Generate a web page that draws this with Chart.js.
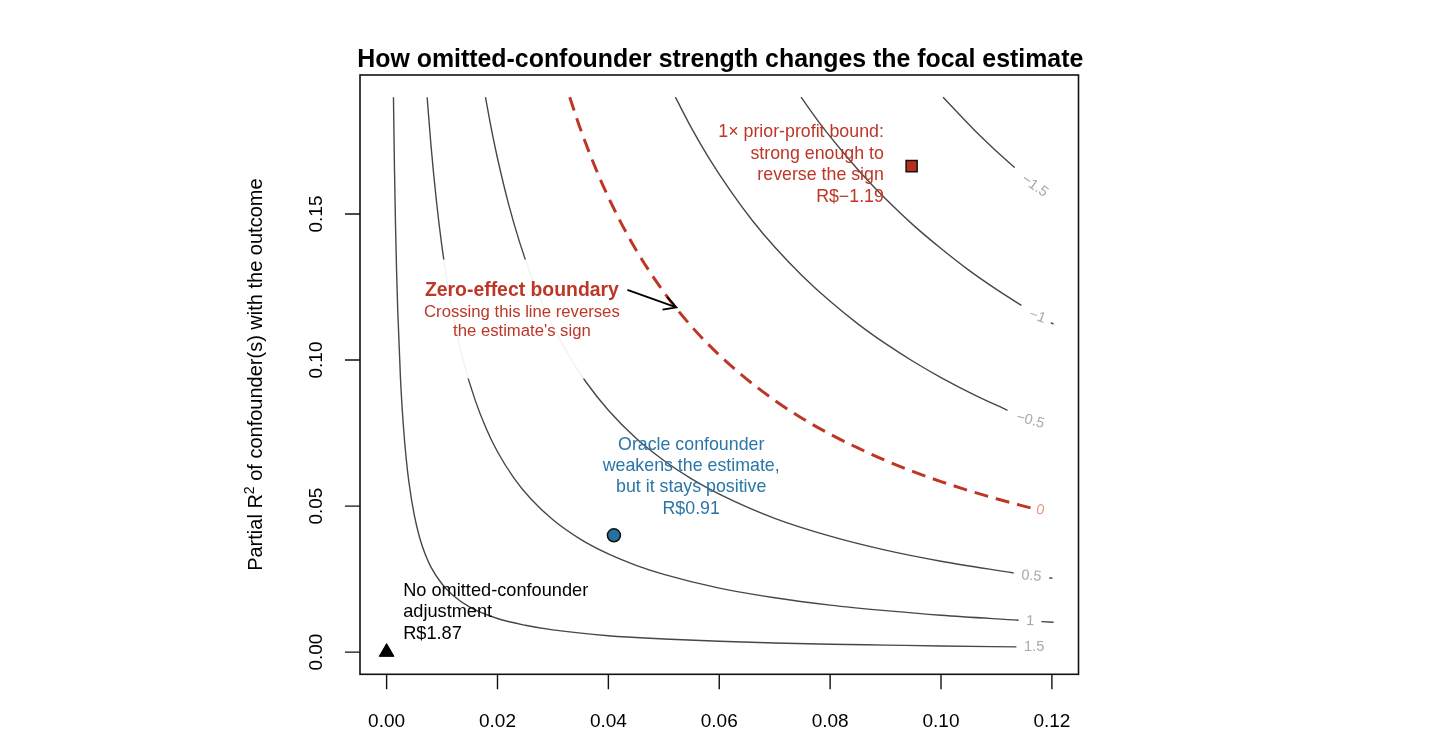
<!DOCTYPE html>
<html>
<head>
<meta charset="utf-8">
<script src="https://cdn.jsdelivr.net/npm/chart.js@4.4.1/dist/chart.umd.min.js"></script>
<style>
  body { margin: 0; background: #fff; }
  canvas { display: block; }
</style>
</head>
<body>
<canvas id="sensChart" width="1440" height="750"></canvas>
<script>
// Contour lines of the adjusted estimate (x = partial R2 with treatment, y = partial R2 with outcome)
// values; null = gap left for the contour label
const lvl15x = [0.001235, 0.0014, 0.0016, 0.0018, 0.002, 0.0025, 0.003, 0.0035, 0.004, 0.005, 0.006, 0.007, 0.008, 0.01, 0.012, 0.015, 0.02, 0.025, 0.03, 0.04, 0.05, 0.06, 0.07, 0.08, 0.09, 0.10, 0.1136];
const lvl15y = [0.19, 0.1676, 0.1466, 0.1303, 0.1173, 0.0938, 0.0781, 0.0669, 0.0585, 0.0468, 0.0389, 0.0333, 0.0291, 0.0233, 0.0194, 0.0154, 0.0115, 0.0092, 0.0076, 0.0056, 0.0045, 0.0037, 0.0031, 0.0027, 0.0024, 0.0021, 0.0018];

const lvl10x = [0.00731, 0.008, 0.009, 0.010, 0.011, 0.012, 0.014, 0.016, 0.018, 0.02, 0.023, 0.026, 0.03, 0.035, 0.04, 0.045, 0.05, 0.06, 0.07, 0.08, 0.09, 0.10, 0.114, 0.116, 0.1181, 0.1203];
const lvl10y = [0.19, 0.1736, 0.1542, 0.1386, 0.1259, 0.1153, 0.0986, 0.0861, 0.0764, 0.0686, 0.0595, 0.0525, 0.0453, 0.0386, 0.0336, 0.0297, 0.0266, 0.0219, 0.0186, 0.0161, 0.0142, 0.0126, 0.0109, null, 0.01045, 0.01024];

const lvl05x = [0.01783, 0.019, 0.02, 0.022, 0.024, 0.026, 0.028, 0.03, 0.033, 0.036, 0.04, 0.045, 0.05, 0.055, 0.06, 0.07, 0.08, 0.09, 0.10, 0.1131, 0.116, 0.1195, 0.1201];
const lvl05y = [0.19, 0.1781, 0.1691, 0.1534, 0.1403, 0.1292, 0.1198, 0.1116, 0.1011, 0.0924, 0.0828, 0.0732, 0.0656, 0.0593, 0.0541, 0.0458, 0.0397, 0.0349, 0.0311, 0.0271, null, 0.0254, 0.0253];

const lvl00x = [0.03303, 0.035, 0.038, 0.041, 0.045, 0.05, 0.055, 0.06, 0.065, 0.07, 0.075, 0.08, 0.085, 0.09, 0.095, 0.10, 0.105, 0.11, 0.1163];
const lvl00y = [0.19, 0.1789, 0.1643, 0.1518, 0.1377, 0.1233, 0.1115, 0.1017, 0.0934, 0.0862, 0.0800, 0.0746, 0.0699, 0.0656, 0.0618, 0.0584, 0.0553, 0.0525, 0.0493];

const lvlm05x = [0.05209, 0.055, 0.058, 0.062, 0.066, 0.07, 0.075, 0.08, 0.085, 0.09, 0.095, 0.10, 0.106, 0.112];
const lvlm05y = [0.19, 0.1794, 0.1696, 0.1580, 0.1477, 0.1387, 0.1288, 0.1201, 0.1124, 0.1056, 0.0995, 0.0940, 0.0881, 0.0828];

const lvlm10x = [0.07475, 0.078, 0.082, 0.086, 0.09, 0.095, 0.10, 0.105, 0.11, 0.1145, 0.117, 0.1198, 0.1203];
const lvlm10y = [0.19, 0.1814, 0.1719, 0.1631, 0.1552, 0.1462, 0.1382, 0.1308, 0.1242, 0.1187, null, 0.1128, 0.1123];

const lvlm15x = [0.10038, 0.102, 0.104, 0.106, 0.108, 0.11, 0.1133];
const lvlm15y = [0.19, 0.1867, 0.1827, 0.1788, 0.1751, 0.1715, 0.1659];

// contour labels (text, anchor in data units, angle in degrees)
const contourText  = ['1.5', '1', '0.5', '0', '\u22120.5', '\u22121', '\u22121.5'];
const contourLabX  = [0.1168, 0.1161, 0.1163, 0.1179, 0.1161, 0.1174, 0.1169];
const contourLabY  = [0.0017, 0.0106, 0.0260, 0.0486, 0.0793, 0.1149, 0.1596];
const contourAngle = [0, 2, 5, 12, 15, 20, 35];

// benchmark points
const noAdjX = 0,      noAdjY = 0;
const oracleX = 0.0410, oracleY = 0.0400;
const priorX = 0.0947,  priorY = 0.1664;

const noAdjText  = ['No omitted-confounder', 'adjustment', 'R$1.87'];
const oracleText = ['Oracle confounder', 'weakens the estimate,', 'but it stays positive', 'R$0.91'];
const priorText  = ['1\u00d7 prior-profit bound:', 'strong enough to', 'reverse the sign', 'R$\u22121.19'];
const zeroTitle  = 'Zero-effect boundary';
const zeroText   = ['Crossing this line reverses', "the estimate's sign"];

const xTicks = [0, 0.02, 0.04, 0.06, 0.08, 0.10, 0.12];
const xTickLabels = ['0.00', '0.02', '0.04', '0.06', '0.08', '0.10', '0.12'];
const yTicks = [0, 0.05, 0.10, 0.15];
const yTickLabels = ['0.00', '0.05', '0.10', '0.15'];

const FONT = "'Liberation Sans', Arial, Helvetica, sans-serif";
const RED = '#bd3626';
const BLUE = '#2a76a6';
const GREY_LINE = '#474747';

const toPoints = (xs, ys) => xs.map((v, i) => ({ x: v, y: ys[i] }));

const contourSet = (xs, ys) => ({
  data: toPoints(xs, ys),
  showLine: true,
  borderColor: GREY_LINE,
  borderWidth: 1.4,
  pointRadius: 0,
  cubicInterpolationMode: 'monotone',
  fill: false,
});

// draws box, ticks, labels and annotations
const overlayPlugin = {
  id: 'overlay',
  afterDatasetsDraw(chart) {
    const { ctx, chartArea: a, scales: { x, y } } = chart;
    ctx.save();

    // faint white panel behind the zero-effect note
    const zx = x.getPixelForValue(0.0244);
    const zy = y.getPixelForValue(0.1238);
    ctx.fillStyle = 'rgba(255,255,255,0.93)';
    ctx.fillRect(zx - 110, zy - 31, 220, 119);

    // contour labels
    ctx.textAlign = 'center';
    ctx.textBaseline = 'middle';
    ctx.font = '14.5px ' + FONT;
    contourText.forEach((t, i) => {
      ctx.save();
      ctx.translate(x.getPixelForValue(contourLabX[i]), y.getPixelForValue(contourLabY[i]));
      ctx.rotate(contourAngle[i] * Math.PI / 180);
      ctx.fillStyle = t === '0' ? '#e6958a' : '#a8a8a8';
      ctx.fillText(t, 0, 0);
      ctx.restore();
    });

    // zero-effect note + arrow
    ctx.fillStyle = RED;
    ctx.font = 'bold 19.4px ' + FONT;
    ctx.fillText(zeroTitle, zx, zy);
    ctx.font = '16.7px ' + FONT;
    zeroText.forEach((t, i) => ctx.fillText(t, zx, zy + 21.7 + i * 19.5));

    const ax0 = x.getPixelForValue(0.04343), ay0 = y.getPixelForValue(0.12401);
    const ax1 = x.getPixelForValue(0.05227), ay1 = y.getPixelForValue(0.11806);
    const ang = Math.atan2(ay1 - ay0, ax1 - ax0);
    ctx.strokeStyle = '#000';
    ctx.lineWidth = 1.8;
    ctx.beginPath();
    ctx.moveTo(ax0, ay0);
    ctx.lineTo(ax1, ay1);
    ctx.moveTo(ax1 - 14 * Math.cos(ang - 0.5), ay1 - 14 * Math.sin(ang - 0.5));
    ctx.lineTo(ax1, ay1);
    ctx.lineTo(ax1 - 14 * Math.cos(ang + 0.5), ay1 - 14 * Math.sin(ang + 0.5));
    ctx.stroke();

    // oracle note
    ctx.fillStyle = BLUE;
    ctx.font = '17.8px ' + FONT;
    const ox = x.getPixelForValue(0.05494), oy = y.getPixelForValue(0.07078);
    oracleText.forEach((t, i) => ctx.fillText(t, ox, oy + i * 21.1));

    // prior-profit note
    ctx.fillStyle = RED;
    ctx.textAlign = 'right';
    const px = x.getPixelForValue(0.08969), py = y.getPixelForValue(0.1779);
    priorText.forEach((t, i) => ctx.fillText(t, px, py + i * 21.4));

    // no-adjustment note
    ctx.fillStyle = '#000';
    ctx.textAlign = 'left';
    ctx.font = '18.2px ' + FONT;
    const nx = x.getPixelForValue(0.00299), ny = y.getPixelForValue(0.02086);
    noAdjText.forEach((t, i) => ctx.fillText(t, nx, ny + i * 21.2));

    ctx.restore();
  },
  afterDraw(chart) {
    const { ctx, chartArea: a, scales: { x, y } } = chart;
    ctx.save();

    // plot box
    ctx.strokeStyle = '#111';
    ctx.lineWidth = 1.6;
    ctx.strokeRect(a.left, a.top, a.right - a.left, a.bottom - a.top);

    // ticks
    ctx.lineWidth = 1.4;
    ctx.beginPath();
    xTicks.forEach(v => {
      const p = x.getPixelForValue(v);
      ctx.moveTo(p, a.bottom);
      ctx.lineTo(p, a.bottom + 15);
    });
    yTicks.forEach(v => {
      const p = y.getPixelForValue(v);
      ctx.moveTo(a.left, p);
      ctx.lineTo(a.left - 15, p);
    });
    ctx.stroke();

    // tick labels
    ctx.fillStyle = '#000';
    ctx.font = '19px ' + FONT;
    ctx.textAlign = 'center';
    ctx.textBaseline = 'middle';
    xTicks.forEach((v, i) => ctx.fillText(xTickLabels[i], x.getPixelForValue(v), 722));
    yTicks.forEach((v, i) => {
      ctx.save();
      ctx.translate(317, y.getPixelForValue(v));
      ctx.rotate(-Math.PI / 2);
      ctx.fillText(yTickLabels[i], 0, 0);
      ctx.restore();
    });

    // y axis title with superscript
    ctx.save();
    ctx.translate(255, (a.top + a.bottom) / 2);
    ctx.rotate(-Math.PI / 2);
    ctx.textAlign = 'left';
    ctx.textBaseline = 'alphabetic';
    const p1 = 'Partial R', sup = '2', p2 = ' of confounder(s) with the outcome';
    ctx.font = '20px ' + FONT;
    const w1 = ctx.measureText(p1).width, w2 = ctx.measureText(p2).width;
    ctx.font = '14px ' + FONT;
    const ws = ctx.measureText(sup).width;
    let sx = -(w1 + ws + w2) / 2;
    ctx.font = '20px ' + FONT;
    ctx.fillText(p1, sx, 7);
    ctx.font = '14px ' + FONT;
    ctx.fillText(sup, sx + w1, -1);
    ctx.font = '20px ' + FONT;
    ctx.fillText(p2, sx + w1 + ws, 7);
    ctx.restore();

    // title
    ctx.font = 'bold 24.9px ' + FONT;
    ctx.textAlign = 'center';
    ctx.textBaseline = 'middle';
    ctx.fillText('How omitted-confounder strength changes the focal estimate', (a.left + a.right) / 2 + 1, 60);

    ctx.restore();
  }
};

const zeroSet = contourSet(lvl00x, lvl00y);
zeroSet.borderColor = RED;
zeroSet.borderWidth = 3;
zeroSet.borderDash = [14, 8];

new Chart(document.getElementById('sensChart'), {
  type: 'scatter',
  data: {
    datasets: [
      contourSet(lvl15x, lvl15y),
      contourSet(lvl10x, lvl10y),
      contourSet(lvl05x, lvl05y),
      zeroSet,
      contourSet(lvlm05x, lvlm05y),
      contourSet(lvlm10x, lvlm10y),
      contourSet(lvlm15x, lvlm15y),
      {
        data: [{ x: noAdjX, y: noAdjY }],
        pointStyle: 'triangle', pointRadius: 8.5,
        backgroundColor: '#000', borderColor: '#000', borderWidth: 1,
      },
      {
        data: [{ x: oracleX, y: oracleY }],
        pointStyle: 'circle', pointRadius: 6.5,
        backgroundColor: '#25719f', borderColor: '#111', borderWidth: 1.5,
      },
      {
        data: [{ x: priorX, y: priorY }],
        pointStyle: 'rect', pointRadius: 7.8,
        backgroundColor: '#b7301d', borderColor: '#111', borderWidth: 1.5,
      },
    ],
  },
  options: {
    responsive: false,
    animation: false,
    events: [],
    layout: { padding: { left: 360, right: 361.5, top: 75, bottom: 75.7 } },
    plugins: { legend: { display: false }, tooltip: { enabled: false } },
    scales: {
      x: { type: 'linear', min: -0.0048, max: 0.1248, display: false },
      y: { type: 'linear', min: -0.0076, max: 0.1976, display: false },
    },
  },
  plugins: [overlayPlugin],
});
</script>
</body>
</html>
